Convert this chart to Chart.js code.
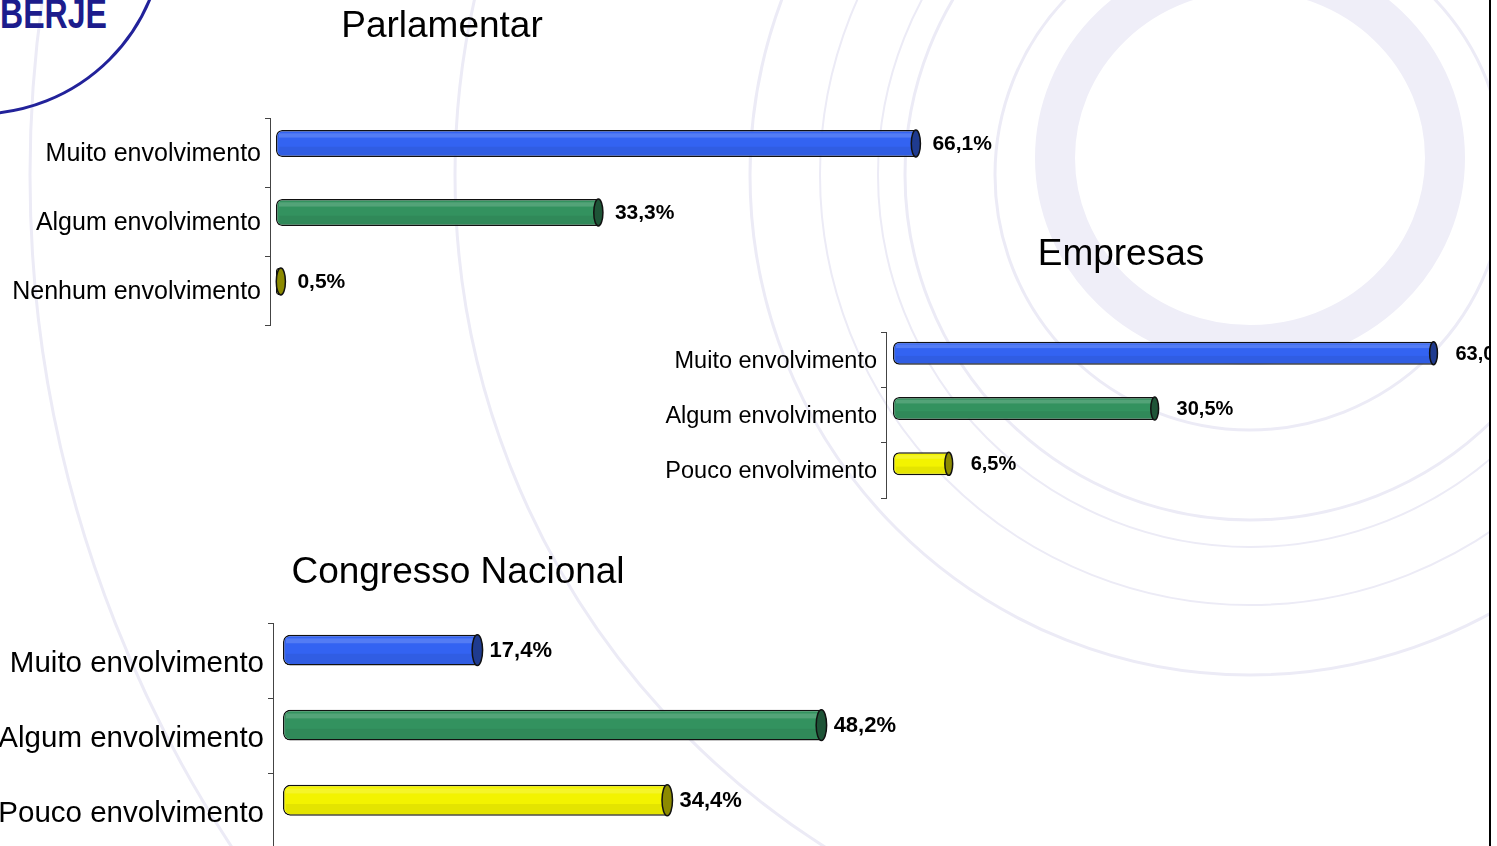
<!DOCTYPE html>
<html>
<head>
<meta charset="utf-8">
<script src="https://cdn.jsdelivr.net/npm/chart.js@4.4.1/dist/chart.umd.min.js"></script>
<style>
  html, body { margin:0; padding:0; background:#fff; width:1497px; height:846px; overflow:hidden; }
  #wrap { position:relative; width:1497px; height:846px; overflow:hidden; }
  #bg, canvas { position:absolute; left:0; top:0; }
  #edge { position:absolute; left:1489px; top:0; width:8px; height:846px; background:#fff; border-left:2px solid #000; box-sizing:border-box; }
</style>
</head>
<body>
<div id="wrap">
<svg id="bg" width="1497" height="846" xmlns="http://www.w3.org/2000/svg">
  <g fill="none" stroke="#ecebf6">
    <ellipse cx="1250" cy="158" rx="195" ry="187" stroke-width="40" stroke="#efeef8"/>
    <circle cx="1250" cy="175" r="255" stroke-width="3"/>
    <circle cx="1250" cy="175" r="345" stroke-width="3"/>
    <circle cx="1250" cy="175" r="372" stroke-width="2"/>
    <circle cx="1250" cy="175" r="430" stroke-width="2"/>
    <circle cx="1250" cy="175" r="500" stroke-width="3"/>
    <circle cx="1250" cy="175" r="795" stroke-width="3"/>
    <circle cx="1250" cy="175" r="1220" stroke-width="3"/>
  </g>
  <circle cx="-22" cy="-72" r="186" fill="none" stroke="#22229a" stroke-width="3"/>
  <text x="0" y="28" font-family="Liberation Sans, Arial, sans-serif" font-weight="bold" font-size="42" fill="#1c1c8c" textLength="107" lengthAdjust="spacingAndGlyphs">BERJE</text>
</svg>
<canvas id="c1" width="1497" height="870"></canvas>
<canvas id="c2" width="1497" height="870"></canvas>
<canvas id="c3" width="1497" height="870"></canvas>
<div id="edge"></div>
</div>
<script>
// ---- data ----
const parlamentarTitle = 'Parlamentar';
const parlamentarLabels = ['Muito envolvimento', 'Algum envolvimento', 'Nenhum envolvimento'];
const parlamentarValues = [66.1, 33.3, 0.5];

const empresasTitle = 'Empresas';
const empresasLabels = ['Muito envolvimento', 'Algum envolvimento', 'Pouco envolvimento'];
const empresasValues = [63.0, 30.5, 6.5];

const congressoTitle = 'Congresso Nacional';
const congressoLabels = ['Muito envolvimento', 'Algum envolvimento', 'Pouco envolvimento'];
const congressoValues = [17.4, 48.2, 34.4];

const axisMax = 70;

// ---- style ----
const FONT = '"Liberation Sans", Arial, Helvetica, sans-serif';
const barColors = ['#3363f2', '#33925f', '#f3f300'];
const capColors = ['#1f3b8f', '#1e5437', '#8c8a00'];
const fmt = v => v.toFixed(1).replace('.', ',') + '%';

const cylinder = {
  id: 'cylinder',
  beforeDatasetsDraw(chart, args, o) {
    chart.ctx.save();
    chart.ctx.translate(0, o.shift);
  },
  afterDatasetsDraw(chart, args, o) {
    const ctx = chart.ctx;
    const meta = chart.getDatasetMeta(0);
    const data = chart.data.datasets[0].data;
    meta.data.forEach((bar, i) => {
      const p = bar.getProps(['x', 'y', 'base', 'height'], true);
      const h = p.height, top = p.y - h / 2, x = p.x, base = p.base;
      const rx = Math.max(3, h * 0.17);
      if (x - base > 3) {
        ctx.save();
        ctx.beginPath();
        ctx.rect(base + 3, top + 1.5, x - base - 3, h - 3);
        ctx.clip();
        ctx.fillStyle = 'rgba(255,255,255,0.16)';
        ctx.fillRect(base, top + h * 0.12, x - base, h * 0.16);
        ctx.fillStyle = 'rgba(0,0,0,0.06)';
        ctx.fillRect(base, top + h * 0.62, x - base, h * 0.4);
        ctx.restore();
      }
      ctx.beginPath();
      ctx.ellipse(x, p.y, rx, h / 2, 0, 0, Math.PI * 2);
      ctx.fillStyle = capColors[i];
      ctx.fill();
      ctx.lineWidth = 1.5;
      ctx.strokeStyle = '#111';
      ctx.stroke();
      ctx.font = `bold ${o.valueSize}px ${FONT}`;
      ctx.fillStyle = '#000';
      ctx.textAlign = 'left';
      ctx.textBaseline = 'middle';
      ctx.fillText(fmt(data[i]), x + rx + o.labelGap, p.y + 1);
    });
    ctx.restore();
  },
  afterDraw(chart, args, o) {
    const ctx = chart.ctx;
    ctx.save();
    ctx.font = `${o.titleSize}px ${FONT}`;
    ctx.fillStyle = '#000';
    ctx.textAlign = 'center';
    ctx.textBaseline = 'alphabetic';
    ctx.fillText(o.title, o.titleX, o.titleY);
    ctx.restore();
  }
};

function makeChart(id, title, labels, values, g) {
  const W = 1497, H = 870;
  const right = g.zeroX + axisMax * g.ppu;
  return new Chart(document.getElementById(id), {
    type: 'bar',
    data: {
      labels: labels,
      datasets: [{
        data: values,
        backgroundColor: barColors,
        borderColor: '#111',
        borderWidth: 1.5,
        borderSkipped: false,
        borderRadius: { topLeft: g.radius, bottomLeft: g.radius, topRight: 0, bottomRight: 0 },
        categoryPercentage: 1,
        barPercentage: g.barPct,
        clip: false
      }]
    },
    options: {
      indexAxis: 'y',
      responsive: false,
      animation: false,
      devicePixelRatio: 1,
      events: [],
      layout: { padding: { left: 0, top: g.top, right: W - right, bottom: H - g.bottom } },
      plugins: {
        legend: { display: false },
        tooltip: { enabled: false },
        title: { display: false },
        cylinder: {
          shift: g.shift, valueSize: g.valueSize, labelGap: g.labelGap,
          title: title, titleSize: 37, titleX: g.titleX, titleY: g.titleY
        }
      },
      scales: {
        x: { display: false, min: -(g.zeroX - g.axisX) / g.ppu, max: axisMax },
        y: {
          position: 'left',
          border: { display: true, color: '#444', width: 1 },
          grid: { display: true, drawOnChartArea: false, drawTicks: true, tickLength: 5, offset: true, color: '#444' },
          ticks: { color: '#000', padding: 4, autoSkip: false, labelOffset: g.labelOffset, font: { family: FONT, size: g.labelSize } },
          afterFit: s => { s.width = g.axisX; }
        }
      }
    },
    plugins: [cylinder]
  });
}

makeChart('c1', parlamentarTitle, parlamentarLabels, parlamentarValues, {
  axisX: 270, zeroX: 276, ppu: 9.68, top: 118, bottom: 325, barPct: 0.39, shift: -9,
  radius: 6, labelSize: 25, valueSize: 21, labelGap: 12, labelOffset: 2, titleX: 442, titleY: 37
});
makeChart('c2', empresasTitle, empresasLabels, empresasValues, {
  axisX: 886, zeroX: 893, ppu: 8.58, top: 332, bottom: 498, barPct: 0.415, shift: -6.5,
  radius: 6, labelSize: 23.5, valueSize: 20, labelGap: 18, labelOffset: 1.5, titleX: 1121, titleY: 265
});
makeChart('c3', congressoTitle, congressoLabels, congressoValues, {
  axisX: 273, zeroX: 283, ppu: 11.17, top: 623, bottom: 849, barPct: 0.41, shift: -10.5,
  radius: 7, labelSize: 29.5, valueSize: 22, labelGap: 7, labelOffset: 3, titleX: 458, titleY: 583
});
</script>
</body>
</html>
